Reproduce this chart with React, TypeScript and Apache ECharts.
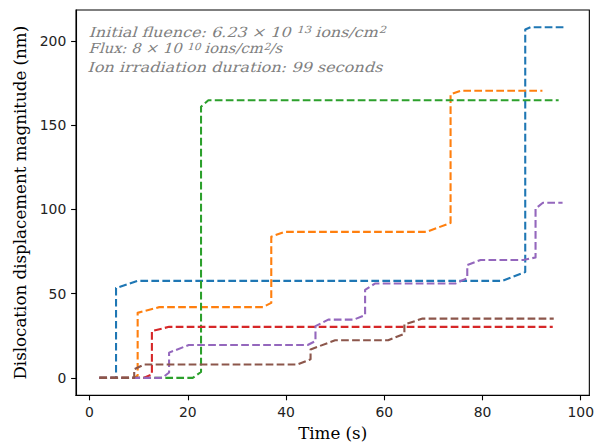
import React, { useEffect, useRef } from "react";
import * as echarts from "echarts";

const xTicks = [0, 20, 40, 60, 80, 100];
const yTicks = [0, 50, 100, 150, 200];

const seriesNames = ["Run 1", "Run 2", "Run 3", "Run 4", "Run 5", "Run 6"];
const seriesColors = ["#1f77b4", "#ff7f0e", "#2ca02c", "#d62728", "#9467bd", "#8c564b"];

const blue = [[2, 0], [5.4, 0], [5.4, 53.3], [9.8, 57.6], [84, 57.6], [88.7, 62.8], [88.7, 206.8], [89.8, 208.2], [97, 208.2]];
const orange = [[2, 0], [9.2, 0], [9.8, 1.5], [9.8, 38.6], [14.2, 42], [35.3, 42], [37, 44.5], [37, 83.8], [39.7, 86.7], [68.6, 86.7], [73.5, 92], [73.5, 168.3], [75.6, 170.5], [92.2, 170.5]];
const green = [[2, 0], [21.0, 0], [22.7, 3.5], [22.7, 161], [24.2, 164.8], [95.5, 164.8]];
const red = [[2, 0], [11, 0], [12.7, 2], [12.7, 27.8], [16.2, 30.3], [94.3, 30.3]];
const purple = [[2, 0], [14.8, 0], [16.2, 3.2], [16.2, 15], [20.2, 19.5], [44.4, 19.5], [46, 21.9], [46, 30.7], [48.6, 34.6], [53.8, 34.6], [56.1, 37.2], [56.1, 52.3], [58.1, 56], [74.5, 56], [76.9, 59.2], [76.9, 67], [79.6, 70], [88.3, 70], [90.8, 71.5], [90.8, 100.5], [92.3, 104], [96.3, 104]];
const brown = [[2, 0], [9.1, 0], [9.1, 5.1], [11.1, 7.9], [42.3, 7.9], [45, 11], [45, 16.9], [50, 22.3], [60.8, 22.3], [64.1, 26.2], [64.1, 31.7], [67.8, 35.2], [94.5, 35.2]];

const seriesData = [blue, orange, green, red, purple, brown];

const annotationLines = [
  "{a|Initial fluence: 6.23 × 10 }{s|13}{a| ions/cm}{s|2}",
  "{a|Flux: 8 × 10 }{s|10}{a| ions/cm}{s|2}{a|/s}",
  "{a|Ion irradiation duration: 99 seconds}{h| }",
];

export default function App() {
  const ref = useRef<HTMLDivElement>(null);
  useEffect(() => {
    if (!ref.current) return;
    const chart = echarts.init(ref.current, null, { renderer: "svg" });
    const gray = "#808080";
    const mainFont = "13.9px 'DejaVu Serif'";
    const supFont = "9.9px 'DejaVu Serif'";
    const rich = {
      a: { font: mainFont, fill: gray, lineHeight: 16, verticalAlign: "bottom" },
      s: { font: supFont, fill: gray, lineHeight: 11, verticalAlign: "top", padding: [2, 0, 7, 0] },
      h: { font: "2px 'DejaVu Serif'", fill: gray, lineHeight: 20, verticalAlign: "top" },
    };
    chart.setOption({
      animation: false,
      grid: { left: 76, top: 10, width: 519, height: 388, show: true, borderColor: "#000", borderWidth: 1.1, backgroundColor: "transparent" },
      xAxis: {
        type: "value",
        min: -2.75,
        max: 101.75,
        name: "Time (s)",
        nameLocation: "middle",
        nameGap: 27,
        nameTextStyle: { fontFamily: "DejaVu Serif", fontSize: 16.7, color: "#000" },
        axisLine: { show: true, onZero: false, lineStyle: { color: "#000", width: 1.1 } },
        axisTick: { show: true, length: 4.9, lineStyle: { color: "#000", width: 1.1 }, customValues: xTicks },
        axisLabel: { margin: 9.7, fontFamily: "DejaVu Sans", fontSize: 13.9, color: "#222", customValues: xTicks },
        splitLine: { show: false },
      },
      yAxis: {
        type: "value",
        min: -10.4,
        max: 218.4,
        name: "Dislocation displacement magnitude (nm)",
        nameLocation: "middle",
        nameGap: 47,
        nameTextStyle: { fontFamily: "DejaVu Serif", fontSize: 16.7, color: "#000" },
        axisLine: { show: true, onZero: false, lineStyle: { color: "#000", width: 1.1 } },
        axisTick: { show: true, length: 4.9, lineStyle: { color: "#000", width: 1.1 }, customValues: yTicks },
        axisLabel: { margin: 9.7, fontFamily: "DejaVu Sans", fontSize: 13.9, color: "#222", customValues: yTicks },
        splitLine: { show: false },
      },
      series: seriesData.map((d, i) => ({
        name: seriesNames[i],
        type: "line",
        data: d,
        showSymbol: false,
        symbol: "none",
        lineStyle: { color: seriesColors[i], width: 2.1, type: [7.7, 3.3], join: "round" },
        itemStyle: { color: seriesColors[i] },
      })),
      graphic: annotationLines.map((t, i) => ({
        type: "text",
        x: 89,
        y: [23, 39, 54][i] + 12,
        skewX: -0.3,
        scaleX: [1.15, 1.07, 1.16][i],
        style: { text: t, rich, fill: gray, font: mainFont, x: 0, y: -12 },
      })),
    });
    return () => chart.dispose();
  }, []);
  return <div ref={ref} style={{ position: "absolute", left: 0, top: 0, width: 597, height: 446 }} />;
}
